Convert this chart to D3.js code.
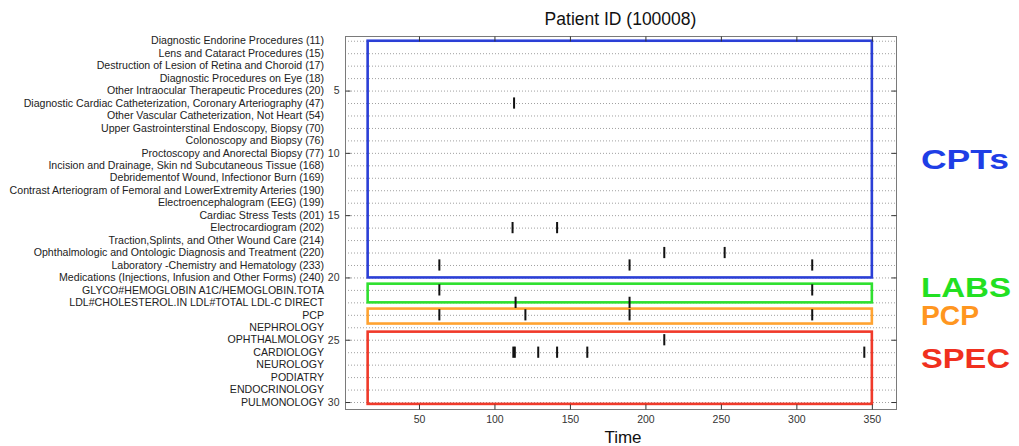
<!DOCTYPE html>
<html>
<head>
<meta charset="utf-8">
<script src="https://cdn.jsdelivr.net/npm/d3@7"></script>
<style>
  html, body { margin: 0; padding: 0; background: #fff; }
  svg { display: block; }
  text { font-family: "Liberation Sans", Arial, Helvetica, sans-serif; }
</style>
</head>
<body>
<svg id="chart" width="1019" height="446"></svg>
<script>
// ---- Data ----
const title = "Patient ID (100008)";
const xLabel = "Time";
const categories = [
  "Diagnostic Endorine Procedures (11)",
  "Lens and Cataract Procedures (15)",
  "Destruction of Lesion of Retina and Choroid (17)",
  "Diagnostic Procedures on Eye (18)",
  "Other Intraocular Therapeutic Procedures (20)",
  "Diagnostic Cardiac Catheterization, Coronary Arteriography (47)",
  "Other Vascular Catheterization, Not Heart (54)",
  "Upper Gastrointerstinal Endoscopy, Biopsy (70)",
  "Colonoscopy and Biopsy (76)",
  "Proctoscopy and Anorectal Biopsy (77)",
  "Incision and Drainage, Skin nd Subcutaneous Tissue (168)",
  "Debridementof Wound, Infectionor Burn (169)",
  "Contrast Arteriogram of Femoral and LowerExtremity Arteries (190)",
  "Electroencephalogram (EEG) (199)",
  "Cardiac Stress Tests (201)",
  "Electrocardiogram (202)",
  "Traction,Splints, and Other Wound Care (214)",
  "Ophthalmologic and Ontologic Diagnosis and Treatment (220)",
  "Laboratory -Chemistry and Hematology (233)",
  "Medications (Injections, Infusion and Other Forms) (240)",
  "GLYCO#HEMOGLOBIN A1C/HEMOGLOBIN.TOTA",
  "LDL#CHOLESTEROL.IN LDL#TOTAL LDL-C DIRECT",
  "PCP",
  "NEPHROLOGY",
  "OPHTHALMOLOGY",
  "CARDIOLOGY",
  "NEUROLOGY",
  "PODIATRY",
  "ENDOCRINOLOGY",
  "PULMONOLOGY"
];
// events: row index (1-based) and time
const eventRows  = [6,   16,  16,    18,    18,    19,   19,    19,    21,   21,    22,  22,    23,   23,    23,    23,    25,    26,    26,    26,  26,    26,    26];
const eventTimes = [113, 112, 141.5, 212.5, 252.5, 63.5, 189.5, 310.5, 63.5, 310.5, 114, 189.5, 63.5, 120.5, 189.5, 310.5, 212.5, 112.5, 113.5, 129, 141.5, 161.5, 345];
// category groups (boxes)
const groupNames  = ["CPTs", "LABS", "PCP", "SPEC"];
const groupTop    = [1, 20.5, 22.5, 24.35];
const groupBottom = [20, 22, 23.7, 30.15];
const groupStart  = [16, 16, 16, 16];
const groupEnd    = [350, 350, 350, 350];
const groupColors = ["#2b3fd6", "#2fe02f", "#ffa331", "#f03a2a"];
const labelColors = ["#1e3ee6", "#22e022", "#ff9620", "#f0301e"];
const xTicks = [50, 100, 150, 200, 250, 300, 350];
const yTicks = [5, 10, 15, 20, 25, 30];
const xDomain = [1, 366];
const yDomain = [0.62, 30.56];

// ---- Layout ----
const svg = d3.select("#chart");
const L = 345, R = 896, T = 36, B = 409;
const x = d3.scaleLinear().domain(xDomain).range([L, R]);
const y = d3.scaleLinear().domain(yDomain).range([T, B]);

// grid lines (dotted) at each row
svg.append("g").selectAll("line").data(d3.range(1, categories.length + 1)).join("line")
  .attr("x1", L).attr("x2", R)
  .attr("y1", d => y(d) + 0.5).attr("y2", d => y(d) + 0.5)
  .attr("stroke", "#a0a0a0").attr("stroke-width", 1)
  .attr("stroke-dasharray", "1,2");

// group rectangles
svg.append("g").selectAll("rect").data(groupNames).join("rect")
  .attr("x", (d, i) => x(groupStart[i]))
  .attr("y", (d, i) => y(groupTop[i]))
  .attr("width", (d, i) => x(groupEnd[i]) - x(groupStart[i]))
  .attr("height", (d, i) => y(groupBottom[i]) - y(groupTop[i]))
  .attr("fill", "none")
  .attr("stroke", (d, i) => groupColors[i])
  .attr("stroke-width", 2.6);

// event marks
svg.append("g").selectAll("line").data(eventTimes).join("line")
  .attr("x1", d => x(d)).attr("x2", d => x(d))
  .attr("y1", (d, i) => y(eventRows[i] - 0.45))
  .attr("y2", (d, i) => y(eventRows[i] + 0.45))
  .attr("stroke", "#111").attr("stroke-width", 2);

// axes box
svg.append("rect").attr("x", L + 0.5).attr("y", T + 0.5)
  .attr("width", R - L).attr("height", B - T)
  .attr("fill", "none").attr("stroke", "#7a7a7a").attr("stroke-width", 1);

// axes with inward ticks
const axB = d3.axisBottom(x).tickValues(xTicks).tickSizeInner(-5).tickSizeOuter(0).tickPadding(6);
const gB = svg.append("g").attr("transform", `translate(0,${B + 0.5})`).call(axB);
const axT = d3.axisTop(x).tickValues(xTicks).tickSizeInner(-5).tickSizeOuter(0).tickFormat("");
const gT = svg.append("g").attr("transform", `translate(0,${T + 0.5})`).call(axT);
const axL = d3.axisLeft(y).tickValues(yTicks).tickSizeInner(-5).tickSizeOuter(0).tickPadding(6);
const gL = svg.append("g").attr("transform", `translate(${L + 0.5},0)`).call(axL);
const axR = d3.axisRight(y).tickValues(yTicks).tickSizeInner(-5).tickSizeOuter(0).tickFormat("");
const gR = svg.append("g").attr("transform", `translate(${R + 0.5},0)`).call(axR);
[gB, gT, gL, gR].forEach(g => {
  g.select(".domain").remove();
  g.selectAll(".tick line").attr("stroke", "#333");
  g.selectAll(".tick text").attr("fill", "#333").style("font-size", "10.5px")
    .style("font-family", "'Liberation Sans', Arial, sans-serif");
});

// category labels
svg.append("g").selectAll("text").data(categories).join("text")
  .attr("x", 324)
  .attr("y", (d, i) => y(i + 1))
  .attr("dy", "0.35em")
  .attr("text-anchor", "end")
  .attr("fill", "#222")
  .style("font-size", "10.6px")
  .text(d => d);

// title and x label
svg.append("text").attr("x", (L + R) / 2).attr("y", 25)
  .attr("text-anchor", "middle").attr("fill", "#111")
  .style("font-size", "17.5px").text(title);
svg.append("text").attr("x", 623).attr("y", 443)
  .attr("text-anchor", "middle").attr("fill", "#111")
  .style("font-size", "17px").text(xLabel);

// group labels on the right
const groupLabelY = [169, 297, 325, 368];
const groupLabelW = [88, 90, 58, 89];
svg.append("g").selectAll("text").data(groupNames).join("text")
  .attr("x", 921)
  .attr("y", (d, i) => groupLabelY[i])
  .attr("fill", (d, i) => labelColors[i])
  .attr("textLength", (d, i) => groupLabelW[i])
  .attr("lengthAdjust", "spacingAndGlyphs")
  .style("font-size", "27px").style("font-weight", "bold")
  .text(d => d);
</script>
</body>
</html>
